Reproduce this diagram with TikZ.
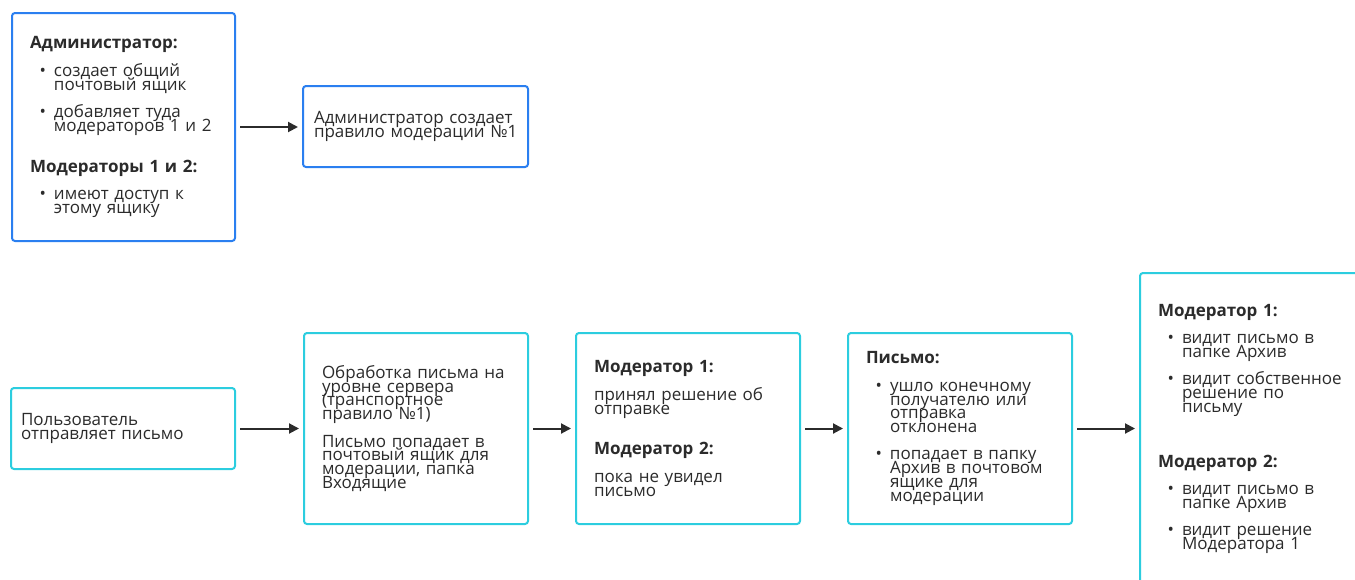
\documentclass[tikz,border=0pt]{standalone}
\usepackage{fontspec}
\setmainfont{Open Sans}
\usepackage{tikz}
\usetikzlibrary{arrows.meta,positioning}
\definecolor{modblue}{HTML}{2A7FF0}
\definecolor{modcyan}{HTML}{2CCDDF}
\definecolor{modink}{HTML}{2B2B2B}
\newcommand{\bul}{\makebox[24pt][r]{\textbullet\hspace{8pt}}}
\newcommand{\ind}{\hspace*{24pt}}
\newcommand{\tightlines}{\lineskiplimit=-50pt\lineskip=0pt\relax}

\begin{document}
\begin{tikzpicture}[x=1pt, y=-1pt,
    font=\fontsize{17}{13.8}\selectfont\tightlines, text=modink,
    card/.style={draw, line width=2pt, rounded corners=3pt, fill=white,
        anchor=north west, align=left, inner ysep=0pt},
    bluecard/.style={card, draw=modblue},
    cyancard/.style={card, draw=modcyan},
    flow/.style={draw=modink, line width=2pt,
        -{Triangle[length=10pt,width=10pt]}, shorten <=4pt, shorten >=4pt}]
    \useasboundingbox (0,0) rectangle (1355,579);
    \clip (0,0) rectangle (1355,579);

    % setup
    \node[bluecard, text width=187pt, inner xsep=18pt, minimum height=228pt] (admin) at (11,12) {%
        {\bfseries Администратор:}\\[13.7pt]
        \bul создает общий\\
        \ind почтовый ящик\\[13.5pt]
        \bul добавляет туда\\
        \ind модераторов 1 и 2\\[27pt]
        {\bfseries Модераторы 1 и 2:}\\[13.7pt]
        \bul имеют доступ к\\
        \ind этому ящику};
    \node[bluecard, text width=203pt, inner xsep=11pt, minimum height=81pt] (rule) at (302,85) {%
        Администратор создает\\
        \mbox{правило модерации №1}};

    % message flow
    \node[cyancard, text width=204pt, inner xsep=10pt, minimum height=81pt] (user) at (10,387) {%
        Пользователь\\
        отправляет письмо};
    \node[cyancard, text width=188pt, inner xsep=18pt, minimum height=191pt] (server) at (303,332) {%
        Обработка письма на\\
        уровне сервера\\
        (транспортное\\
        правило №1)\\[13.5pt]
        Письмо попадает в\\
        почтовый ящик для\\
        модерации, папка\\
        Входящие};
    \node[cyancard, text width=188pt, inner xsep=18pt, minimum height=191pt] (mods) at (575,332) {%
        {\bfseries Модератор 1:}\\[13.7pt]
        принял решение об\\
        отправке\\[27pt]
        {\bfseries Модератор 2:}\\[13.7pt]
        пока не увидел\\
        письмо};
    \node[cyancard, text width=188pt, inner xsep=18pt, minimum height=191pt] (mail) at (847,332) {%
        {\bfseries Письмо:}\\[13.7pt]
        \bul ушло конечному\\
        \ind получателю или\\
        \ind отправка\\
        \ind отклонена\\[13.5pt]
        \bul попадает в папку\\
        \ind Архив в почтовом\\
        \ind ящике для\\
        \ind модерации};
    \node[cyancard, text width=204pt, inner xsep=18pt, minimum height=312pt] (final) at (1139,272) {%
        {\bfseries Модератор 1:}\\[13.7pt]
        \bul видит письмо в\\
        \ind папке Архив\\[13.5pt]
        \bul видит собственное\\
        \ind решение по\\
        \ind письму\\[41pt]
        {\bfseries Модератор 2:}\\[13.7pt]
        \bul видит письмо в\\
        \ind папке Архив\\[13.5pt]
        \bul видит решение\\
        \ind Модератора 1};

    \draw[flow] (admin.east) -- (admin.east -| rule.west);
    \draw[flow] (user) -- (server);
    \draw[flow] (server) -- (mods);
    \draw[flow] (mods) -- (mail);
    \draw[flow] (mail.east) -- (mail.east -| final.west);
\end{tikzpicture}
\end{document}
